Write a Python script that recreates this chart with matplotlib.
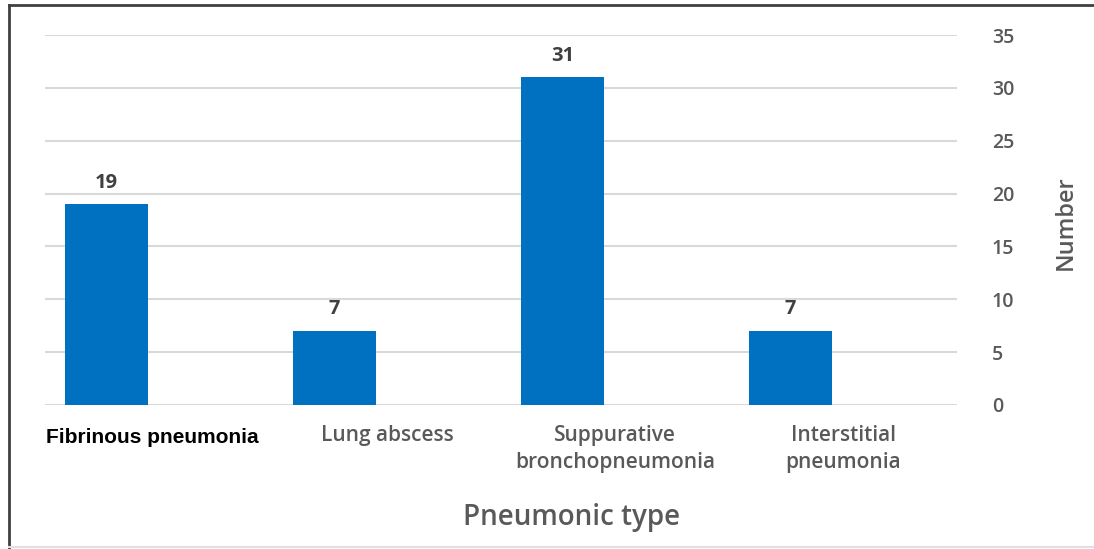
import numpy as np
import matplotlib.pyplot as plt
from matplotlib.lines import Line2D

# pneumonia types and case counts
categories = ['Fibrinous pneumonia', 'Lung abscess', 'Suppurative\nbronchopneumonia', 'Interstitial\npneumonia']
counts = [19, 7, 31, 7]
y_ticks = [0, 5, 10, 15, 20, 25, 30, 35]

bar_color = '#0070C0'
gray = '#595959'

fig = plt.figure(figsize=(10.94, 5.49), dpi=100)
ax = fig.add_axes([0.0411, 0.2623, 0.8337, 0.6739])

x = np.arange(len(categories))
bars = ax.bar(x - 0.23, counts, width=0.364, color=bar_color, zorder=3)

for b, v in zip(bars, counts):
    ax.text(b.get_x() + b.get_width() / 2, v + 1.1, str(v), ha='center', va='bottom',
            fontsize=14.5, fontweight='bold', color='#404040', family='Open Sans')

ax.set_xlim(-0.5, len(categories) - 0.5)
ax.set_ylim(0, 35)
ax.set_yticks(y_ticks)
ax.yaxis.tick_right()
ax.tick_params(axis='y', length=0, pad=25, labelsize=14, labelcolor=gray)
for lab in ax.get_yticklabels():
    lab.set_family('Open Sans')
    lab.set_fontweight('semibold')
ax.grid(axis='y', color='#d9d9d9', linewidth=1.5, zorder=0)
for s in ax.spines.values():
    s.set_visible(False)

ax.set_xticks(x)
ax.set_xticklabels([])
ax.tick_params(axis='x', length=0)
# category labels, first one in a different font as in the original figure
for i, c in enumerate(categories):
    if i == 0:
        ax.text(i - 0.03, -2.2, c, ha='center', va='top', fontsize=15, fontweight='bold',
                family='Liberation Sans', color='black')
    else:
        ax.text(i, -1.85, c, ha='center', va='top', fontsize=15, fontweight='semibold',
                family='Open Sans', color=gray, linespacing=1.4)

fig.text(0.522, 0.058, 'Pneumonic type', ha='center', va='center', fontsize=20,
         fontweight='semibold', family='Open Sans', color=gray)
fig.text(0.974, 0.595, 'Number', ha='center', va='center', rotation=90, fontsize=17,
         fontweight='semibold', family='Open Sans', color=gray)

# outer frame
fig.add_artist(Line2D([0.008, 0.008], [0.0, 0.99], color='#404040', linewidth=2.0, transform=fig.transFigure))
fig.add_artist(Line2D([0.008, 1.0], [0.99, 0.99], color='#404040', linewidth=2.0, transform=fig.transFigure))
fig.add_artist(Line2D([0.008, 1.0], [0.004, 0.004], color='#e0e0e0', linewidth=1.5, transform=fig.transFigure))

fig.savefig('out.png', dpi=100)
